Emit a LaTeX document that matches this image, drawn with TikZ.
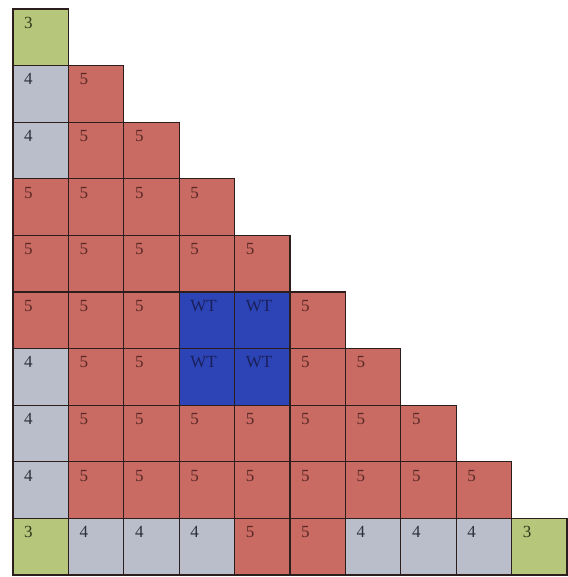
\documentclass[tikz,border=0pt]{standalone}
\usepackage{fontspec}
\setmainfont{Liberation Serif}
\definecolor{cred}{RGB}{201,106,99}
\definecolor{cgrey}{RGB}{186,189,202}
\definecolor{cgreen}{RGB}{182,198,122}
\definecolor{cblue}{RGB}{44,68,182}
\definecolor{tred}{RGB}{90,42,38}
\definecolor{tgrey}{RGB}{45,47,58}
\definecolor{tgreen}{RGB}{50,55,28}
\definecolor{tblue}{RGB}{25,32,90}
\definecolor{edge}{RGB}{45,30,30}
\begin{document}
\begin{tikzpicture}[x=1pt,y=-1pt,
  cellbox/.style={draw=edge, line width=1.3pt, minimum width=55.4pt, minimum height=56.6pt,
    anchor=north west, inner sep=0pt, outer sep=0pt},
  lab/.style={anchor=north west, inner sep=0pt, xshift=11pt, yshift=-8pt,
    font=\fontsize{17}{17}\selectfont},
  typeg/.style={fill=cgreen, label={[lab, text=tgreen]north west:3}},
  types/.style={fill=cgrey, label={[lab, text=tgrey]north west:4}},
  typer/.style={fill=cred, label={[lab, text=tred]north west:5}},
  typeb/.style={fill=cblue, label={[lab, text=tblue]north west:WT}}]
\path[use as bounding box] (0,0) rectangle (567,577);
\foreach \i/\row in {0/{g},1/{s,r},2/{s,r,r},3/{r,r,r,r},4/{r,r,r,r,r},
  5/{r,r,r,b,b,r},6/{s,r,r,b,b,r,r},7/{s,r,r,r,r,r,r,r},
  8/{s,r,r,r,r,r,r,r,r},9/{g,s,s,s,r,r,s,s,s,g}}{
  \foreach \t [count=\j from 0] in \row {
    \node[cellbox, type\t] (c-\i-\j) at ({13+55.4*\j},{9+56.6*\i}) {};
  }
}
\end{tikzpicture}
\end{document}
